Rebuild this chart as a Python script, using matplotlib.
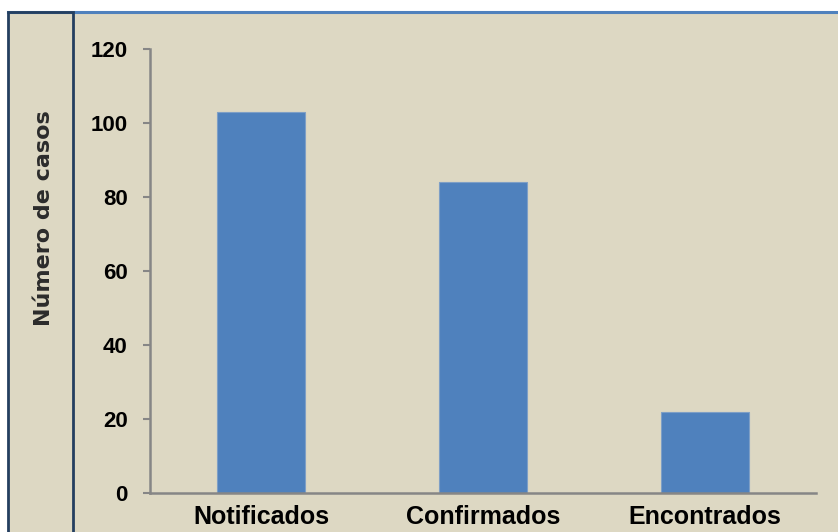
import matplotlib
matplotlib.use("Agg")
import matplotlib.pyplot as plt
import matplotlib.transforms as mtransforms
from matplotlib.patches import Rectangle
from matplotlib.lines import Line2D

categories = ["Notificados", "Confirmados", "Encontrados"]
values = [103, 84, 22]
yticks = [0, 20, 40, 60, 80, 100, 120]

W, H = 838, 532
fig = plt.figure(figsize=(W / 100, H / 100), dpi=100)
fig.patch.set_facecolor("white")

bg = "#DDD8C3"
# background panel
fig.patches.append(Rectangle((8 / W, 0), (W - 8) / W, (H - 12) / H,
                             transform=fig.transFigure, facecolor=bg,
                             edgecolor="none", zorder=-10))
# top blue line
fig.lines.append(Line2D([8 / W, 1], [1 - 12 / H, 1 - 12 / H],
                        transform=fig.transFigure, color="#4F81BD", lw=2.2, zorder=5))
# left dark box
fig.patches.append(Rectangle((8 / W, -0.01), 65 / W, (H - 12) / H + 0.01,
                             transform=fig.transFigure, facecolor="none",
                             edgecolor="#243F60", lw=2, zorder=6))

ax = fig.add_axes([150 / W, 39 / H, 666 / W, 444 / H])
ax.set_zorder(2)
ax.set_facecolor("none")
x = list(range(len(categories)))
ax.bar(x, values, width=0.4, color="#4F81BD", edgecolor="#7E9FC6", linewidth=0.8, zorder=2)
ax.set_xlim(-0.5, 2.5)
ax.set_ylim(0, 120)
ax.set_yticks(yticks)
ax.set_yticklabels([str(t) for t in yticks],
                   fontdict=dict(family=["Liberation Sans Narrow", "Liberation Sans"],
                                 weight="bold", size=16))
ax.set_xticks(x)
labels = ax.set_xticklabels(categories, fontdict=dict(family="Liberation Sans", weight="bold", size=18))
labels[0].set_transform(labels[0].get_transform() +
                        mtransforms.ScaledTranslation(11 / 100, 0, fig.dpi_scale_trans))
for s in ["top", "right"]:
    ax.spines[s].set_visible(False)
for s in ["left", "bottom"]:
    ax.spines[s].set_color("#868686")
    ax.spines[s].set_linewidth(1.8)
ax.tick_params(axis="y", direction="out", length=5, width=1.5, color="#868686", pad=11)
ax.tick_params(axis="x", length=0, pad=8.5)

fig.text(44 / W, 1 - 218 / H, "Número de casos", rotation=90, ha="center", va="center",
         family="DejaVu Sans", weight="bold", size=16, color="#2B2B2B")

fig.savefig("out.png", dpi=100, facecolor=fig.get_facecolor())
